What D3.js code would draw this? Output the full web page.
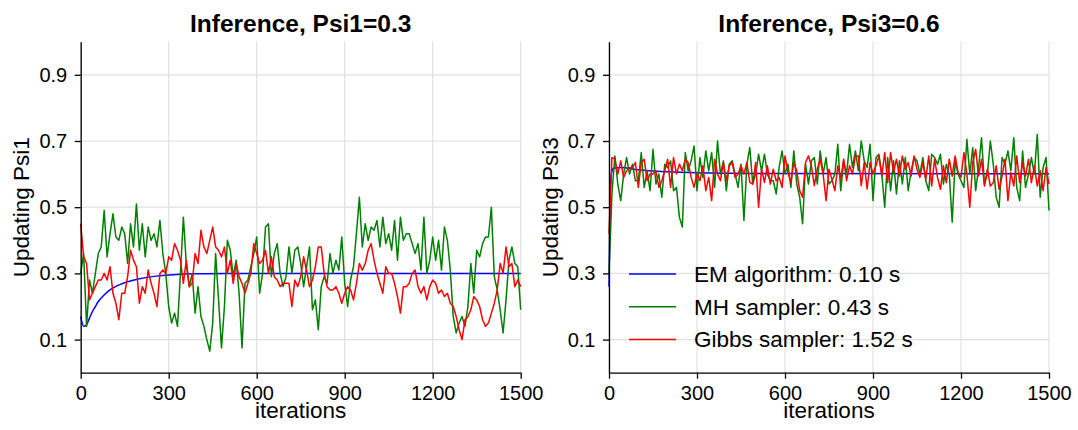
<!DOCTYPE html>
<html>
<head>
<meta charset="utf-8">
<script src="https://cdn.jsdelivr.net/npm/d3@7/dist/d3.min.js"></script>
<style>
  body { margin: 0; background: #fff; }
  svg { display: block; font-family: "Liberation Sans", Arial, sans-serif; }
</style>
</head>
<body>
<script>
//  DATA (one sample every 10 iterations) ================================
var step = 10;

var xTicks = [0, 300, 600, 900, 1200, 1500];
var yTicks = [0.1, 0.3, 0.5, 0.7, 0.9];

var legendLabels = ["EM algorithm: 0.10 s", "MH sampler: 0.43 s", "Gibbs sampler: 1.52 s"];

// Psi1 ---------------------------------------------------------------
var psi1EMIter = [0, 10, 20, 30, 40, 50, 60, 80, 100, 125, 150, 200, 250, 300, 350, 400, 500, 1500];
var psi1EM     = [0.17, 0.14, 0.145, 0.165, 0.185, 0.20, 0.215, 0.235, 0.25, 0.263, 0.272, 0.284, 0.291, 0.295, 0.298, 0.299, 0.30, 0.30];

var psi1MH = [
  0.30,0.36,0.14,0.28,0.24,0.30,0.36,0.38,0.49,0.35,
  0.42,0.48,0.41,0.40,0.44,0.42,0.33,0.45,0.38,0.51,
  0.37,0.45,0.35,0.44,0.40,0.42,0.38,0.46,0.36,0.30,
  0.20,0.15,0.18,0.14,0.30,0.47,0.33,0.26,0.30,0.18,
  0.26,0.17,0.14,0.10,0.065,0.15,0.36,0.22,0.075,0.20,
  0.40,
  0.37,0.29,0.34,0.24,0.075,0.27,0.28,0.32,0.36,0.41,
  0.24,0.30,0.44,0.45,0.29,0.36,0.39,0.30,0.26,0.29,
  0.38,0.30,0.37,0.38,0.33,0.26,0.32,0.38,0.19,0.22,
  0.13,0.26,0.29,0.27,0.36,0.30,0.34,0.31,0.41,0.27,
  0.20,0.28,0.32,0.42,0.53,0.38,0.45,0.40,0.44,0.43,
  0.46,0.38,0.47,0.39,0.42,0.37,0.46,0.34,0.47,0.40,
  0.42,0.42,0.39,0.36,0.39,0.31,0.47,0.30,0.34,0.41,
  0.34,0.40,0.31,0.44,0.40,0.31,0.17,0.12,0.15,0.17,
  0.14,0.20,0.33,0.24,0.37,0.35,0.39,0.41,0.41,0.50,
  0.29,0.25,0.19,0.12,0.22,0.34,0.38,0.33,0.32,0.19
];

var psi1Gibbs = [
  0.45,0.35,0.33,0.22,0.24,0.26,0.28,0.28,0.30,0.28,
  0.32,0.24,0.21,0.16,0.24,0.24,0.29,0.37,0.34,0.32,
  0.21,0.26,0.24,0.31,0.27,0.24,0.20,0.30,0.31,0.30,
  0.35,0.34,0.39,0.37,0.34,0.27,0.34,0.26,0.27,0.36,
  0.33,0.43,0.38,0.36,0.40,0.44,0.38,0.37,0.35,0.38,
  0.30,
  0.34,0.27,0.33,0.29,0.27,0.24,0.27,0.30,0.39,0.36,
  0.33,0.34,0.37,0.30,0.35,0.29,0.28,0.26,0.27,0.27,
  0.27,0.20,0.28,0.26,0.29,0.35,0.31,0.26,0.28,0.32,
  0.38,0.38,0.30,0.26,0.25,0.25,0.26,0.24,0.21,0.24,
  0.26,0.25,0.22,0.27,0.33,0.31,0.33,0.37,0.39,0.34,
  0.30,0.27,0.24,0.32,0.30,0.30,0.27,0.23,0.18,0.26,
  0.26,0.27,0.30,0.31,0.26,0.24,0.26,0.22,0.26,0.28,
  0.27,0.24,0.25,0.23,0.24,0.21,0.20,0.17,0.13,0.10,
  0.16,0.17,0.19,0.23,0.22,0.20,0.16,0.14,0.15,0.18,
  0.21,0.25,0.33,0.30,0.38,0.32,0.33,0.26,0.28,0.26
];

// Psi3 ---------------------------------------------------------------
var psi3EMIter = [0, 3, 8, 15, 40, 100, 200, 300, 500, 1500];
var psi3EM     = [0.26, 0.50, 0.60, 0.618, 0.62, 0.613, 0.607, 0.604, 0.602, 0.601];

var psi3MH = [
  0.30,0.54,0.655,0.57,0.52,0.60,0.65,0.60,0.63,0.58,
  0.58,0.665,0.56,0.61,0.55,0.675,0.57,0.60,0.53,0.63,
  0.62,0.64,0.55,0.56,0.47,0.44,0.665,0.61,0.64,0.685,
  0.55,0.65,0.59,0.67,0.61,0.665,0.56,0.70,0.60,0.64,
  0.55,0.63,0.64,0.60,0.56,0.63,0.46,0.63,0.68,0.57,
  0.60,0.66,0.61,0.66,0.60,0.58,0.58,0.54,0.62,0.67,
  0.60,0.63,0.56,0.67,0.57,0.53,0.45,0.63,0.57,0.64,
  0.65,0.57,0.67,0.60,0.65,0.57,
  0.58,0.60,0.69,0.55,0.64,0.60,0.69,0.62,0.67,0.61,
  0.70,0.64,0.62,0.69,0.52,0.65,0.66,0.60,0.50,0.65,
  0.55,0.64,0.54,0.64,0.57,0.65,0.55,0.61,0.65,0.64,
  0.60,0.65,0.58,0.55,0.66,0.65,0.63,0.66,0.57,0.63,
  0.60,0.455,0.64,0.60,0.58,0.56,0.705,0.60,0.68,0.55,
  0.62,0.71,0.57,0.60,0.70,0.63,0.53,0.50,0.65,0.63,
  0.67,0.61,0.71,0.56,0.52,0.67,0.56,0.60,0.65,0.60,
  0.72,0.53,0.62,0.65,0.49
];

var psi3Gibbs = [
  0.42,0.65,0.645,0.60,0.64,0.59,0.61,0.62,0.62,0.635,
  0.56,0.635,0.645,0.58,0.60,0.60,0.61,0.56,0.58,0.61,
  0.645,0.56,0.65,0.60,0.63,0.61,0.645,0.635,0.59,0.56,
  0.60,0.58,0.625,0.55,0.59,0.52,0.645,0.60,0.58,0.635,
  0.58,0.625,0.635,0.59,0.60,0.625,0.60,0.635,0.575,0.57,
  0.635,0.50,0.615,0.575,0.625,0.57,0.615,0.58,0.59,0.56,
  0.655,0.605,0.575,0.635,0.61,0.55,0.53,0.635,0.655,0.625,
  0.565,0.615,0.645,0.60,0.52,0.615,
  0.584,0.55,0.625,0.584,0.645,0.58,0.625,0.60,0.655,0.655,
  0.565,0.635,0.555,0.635,0.60,0.625,0.655,0.594,0.665,0.574,
  0.665,0.605,0.645,0.594,0.655,0.615,0.635,0.594,0.655,0.615,
  0.59,0.635,0.584,0.655,0.564,0.645,0.59,0.554,0.625,0.574,
  0.645,0.594,0.655,0.605,0.59,0.665,0.60,0.50,0.635,0.675,
  0.594,0.645,0.564,0.615,0.564,0.574,0.625,0.554,0.594,0.645,
  0.52,0.605,0.564,0.655,0.574,0.635,0.594,0.645,0.574,0.625,
  0.564,0.61,0.55,0.62,0.57
];

// ==============================================================================

var width = 1078,
    height = 430;

var colors = ["#0000ff", "#008000", "#ff0000"];

var panels = [
  { title: "Inference, Psi1=0.3", ylabel: "Updating Psi1", left: 80.7,
    emIter: psi1EMIter, em: psi1EM, mh: psi1MH, gibbs: psi1Gibbs, legend: false },
  { title: "Inference, Psi3=0.6", ylabel: "Updating Psi3", left: 609,
    emIter: psi3EMIter, em: psi3EM, mh: psi3MH, gibbs: psi3Gibbs, legend: true }
];

// NB: "top" is taken by window.top, so plotTop / plotBottom
var plotW = 440,
    plotTop = 41.7,
    plotBottom = 372.7;

var svg = d3.select("body").append("svg")
    .attr("width", width)
    .attr("height", height);

panels.forEach(p => {
  var x = d3.scaleLinear().domain([0, 1500]).range([p.left, p.left + plotW]);
  var y = d3.scaleLinear().domain([0, 1]).range([plotBottom, plotTop]);

  var g = svg.append("g");

  // grid
  g.selectAll(".vgrid")
      .data(xTicks)
    .enter().append("line")
      .attr("x1", d => x(d)).attr("x2", d => x(d))
      .attr("y1", plotTop).attr("y2", plotBottom)
      .attr("stroke", "#e0e0e0")
      .attr("stroke-width", 1.2);

  g.selectAll(".hgrid")
      .data(yTicks)
    .enter().append("line")
      .attr("x1", p.left).attr("x2", p.left + plotW)
      .attr("y1", d => y(d)).attr("y2", d => y(d))
      .attr("stroke", "#e0e0e0")
      .attr("stroke-width", 1.2);

  // lines: EM, MH, Gibbs
  var emLine = d3.line()
      .curve(d3.curveMonotoneX)
      .x((d, i) => x(p.emIter[i]))
      .y(d => y(d));

  var sampLine = d3.line()
      .x((d, i) => x(i * step))
      .y(d => y(d));

  g.append("path")
      .attr("d", emLine(p.em))
      .attr("fill", "none")
      .attr("stroke", colors[0])
      .attr("stroke-width", 1.5);

  [p.mh, p.gibbs].forEach((s, k) => {
    g.append("path")
        .attr("d", sampLine(s))
        .attr("fill", "none")
        .attr("stroke", colors[k + 1])
        .attr("stroke-width", 1.5)
        .attr("stroke-linejoin", "round");
  });

  // axes
  var xAxis = d3.axisBottom(x)
      .tickValues(xTicks)
      .tickFormat(d3.format("d"))
      .tickSizeInner(6)
      .tickSizeOuter(0)
      .tickPadding(7);

  var yAxis = d3.axisLeft(y)
      .tickValues(yTicks)
      .tickFormat(d3.format(".1f"))
      .tickSizeInner(6)
      .tickSizeOuter(0)
      .tickPadding(7.5);

  var xg = g.append("g")
      .attr("transform", "translate(0," + plotBottom + ")")
      .call(xAxis);

  var yg = g.append("g")
      .attr("transform", "translate(" + p.left + ",0)")
      .call(yAxis);

  [xg, yg].forEach(a => {
    a.attr("font-size", 20).attr("font-family", "'Liberation Sans', Arial, sans-serif");
    a.select(".domain").attr("stroke", "#000").attr("stroke-width", 1.3);
    a.selectAll(".tick line").attr("stroke", "#000").attr("stroke-width", 1.3);
    a.selectAll(".tick text").attr("fill", "#000");
  });

  // labels
  g.append("text")
      .attr("x", p.left + plotW / 2)
      .attr("y", 32)
      .attr("text-anchor", "middle")
      .attr("font-size", "24.5px")
      .attr("font-weight", "bold")
      .text(p.title);

  g.append("text")
      .attr("x", p.left + plotW / 2)
      .attr("y", 418)
      .attr("text-anchor", "middle")
      .attr("font-size", "22.5px")
      .text("iterations");

  g.append("text")
      .attr("transform", "translate(" + (p.left - 51.5) + "," + ((plotTop + plotBottom) / 2) + ") rotate(-90)")
      .attr("text-anchor", "middle")
      .attr("font-size", "22.5px")
      .text(p.ylabel);

  // legend
  if (p.legend) {
    var lg = g.selectAll(".legend")
        .data(legendLabels)
      .enter().append("g")
        .attr("transform", (d, i) => "translate(" + (p.left + 20) + "," + (274 + i * 32.7) + ")");

    lg.append("line")
        .attr("x1", 0).attr("x2", 47)
        .attr("stroke", (d, i) => colors[i])
        .attr("stroke-width", 1.5);

    lg.append("text")
        .attr("x", 65)
        .attr("dy", "0.35em")
        .attr("font-size", "22.5px")
        .text(d => d);
  }
});
</script>
</body>
</html>
